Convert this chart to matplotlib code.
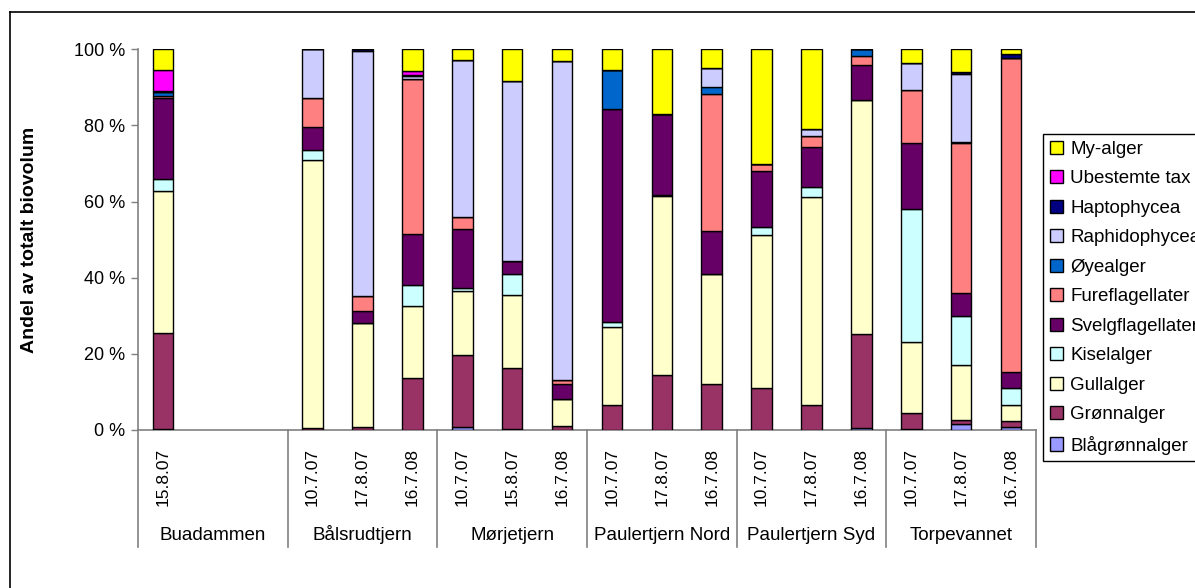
import matplotlib
matplotlib.use('Agg')
import matplotlib.pyplot as plt
from matplotlib.lines import Line2D
from matplotlib.ticker import FuncFormatter
import numpy as np

plt.rcParams['font.family'] = ['Liberation Sans', 'DejaVu Sans']

groups = ['Buadammen', 'Bålsrudtjern', 'Mørjetjern', 'Paulertjern Nord',
          'Paulertjern Syd', 'Torpevannet']
dates = [['15.8.07'],
         ['10.7.07', '17.8.07', '16.7.08'],
         ['10.7.07', '15.8.07', '16.7.08'],
         ['10.7.07', '17.8.07', '16.7.08'],
         ['10.7.07', '17.8.07', '16.7.08'],
         ['10.7.07', '17.8.07', '16.7.08']]

series_names = ['Blågrønnalger', 'Grønnalger', 'Gullalger', 'Kiselalger',
                'Svelgflagellater', 'Fureflagellater', 'Øyealger',
                'Raphidophycea', 'Haptophycea', 'Ubestemte tax', 'My-alger']
colors = ['#9999FF', '#993366', '#FFFFCC', '#CCFFFF', '#660066', '#FF8080',
          '#0066CC', '#CCCCFF', '#000080', '#FF00FF', '#FFFF00']

# sample order: Bua | B1 B2 B3 | M1 M2 M3 | PN1 PN2 PN3 | PS1 PS2 PS3 | T1 T2 T3
blagronnalger = [0.3, 0, 0, 0, 0.7, 0.3, 0, 0, 0, 0, 0, 0, 0.5, 0.3, 1.6, 0.9]
gronnalger = [25.1, 0.4, 0.8, 13.5, 19.0, 16.0, 1.0, 6.6, 14.4, 12.1, 11.0, 6.6, 24.7, 4.2, 1.0, 1.4]
gullalger = [37.2, 70.5, 27.2, 18.9, 16.9, 19.2, 7.2, 20.5, 47.0, 28.8, 40.2, 54.7, 61.5, 18.6, 14.5, 4.3]
kiselalger = [3.3, 2.6, 0, 5.7, 0.6, 5.4, 0, 1.2, 0.3, 0, 2.0, 2.6, 0, 34.9, 12.8, 4.4]
svelgflagellater = [21.2, 6.0, 3.3, 13.1, 15.5, 3.5, 4.0, 55.9, 21.2, 11.4, 14.9, 10.4, 9.2, 17.3, 6.2, 4.2]
fureflagellater = [0.4, 7.8, 3.9, 40.7, 3.3, 0, 0.9, 0, 0, 36.0, 1.9, 2.9, 2.4, 14.0, 39.2, 82.4]
oyealger = [1.0, 0, 0, 0, 0, 0, 0, 10.4, 0, 1.9, 0, 0, 1.7, 0, 0.3, 0]
raphidophycea = [0, 12.7, 64.3, 0.7, 41.3, 47.4, 83.9, 0, 0, 4.9, 0, 1.8, 0, 7.2, 18.0, 0]
haptophycea = [0.3, 0, 0.5, 0.3, 0, 0, 0, 0, 0, 0, 0, 0, 0, 0, 0.5, 1.2]
ubestemte = [5.6, 0, 0, 1.1, 0, 0, 0, 0, 0, 0, 0, 0, 0, 0, 0, 0]
my_alger = [5.4, 0, 0, 5.7, 2.7, 8.2, 3.0, 5.4, 17.1, 4.9, 30.0, 21.0, 0, 3.5, 5.9, 1.2]

series = [blagronnalger, gronnalger, gullalger, kiselalger, svelgflagellater,
          fureflagellater, oyealger, raphidophycea, haptophycea, ubestemte, my_alger]

W, H = 1195, 588
fig = plt.figure(figsize=(W / 100, H / 100), dpi=100)
ax = fig.add_axes([138 / W, 1 - 430 / H, (1036 - 138) / W, (430 - 49.3) / H])

# positions: 3 slots per group
xpos, xlabels = [], []
for gi, dl in enumerate(dates):
    for j, d in enumerate(dl):
        xpos.append(3 * gi + j)
        xlabels.append(d)
xpos = np.array(xpos, dtype=float)

data = np.array(series, dtype=float)
totals = data.sum(axis=0)
pct = data / totals * 100
bottom = np.zeros(len(xpos))
handles = []
for name, col, vals in zip(series_names, colors, pct):
    b = ax.bar(xpos, vals, 0.41, bottom=bottom, color=col, edgecolor='black',
               linewidth=1.0, label=name, zorder=3)
    handles.append(b)
    bottom += vals

ax.set_xlim(-0.5, 17.5)
ax.set_ylim(0, 100)
ax.set_yticks([0, 20, 40, 60, 80, 100])
ax.yaxis.set_major_formatter(FuncFormatter(lambda v, p: f"{int(v)} %"))
ax.tick_params(axis='y', length=5, width=1, color='#808080', labelsize=13, pad=4, direction='out')
ax.set_xticks(xpos)
ax.set_xticklabels(xlabels, rotation=90, fontsize=12.5, va='top', ha='center')
ax.tick_params(axis='x', length=0, pad=13)
for s in ['top', 'right']:
    ax.spines[s].set_visible(False)
ax.spines['left'].set_color('#808080')
ax.spines['bottom'].set_color('#808080')
ax.spines['left'].set_linewidth(1.2)
ax.spines['bottom'].set_linewidth(1.2)

ax.set_ylabel('Andel av totalt biovolum', fontsize=14, fontweight='bold', labelpad=26)

# group labels and dividers of the category table
trans = ax.get_xaxis_transform()
yb = -(547 - 430) / (430 - 49.3)
ylab = -(535 - 430) / (430 - 49.3)
for gi, g in enumerate(groups):
    ax.text(3 * gi + 1, ylab, g, transform=trans, ha='center', va='center', fontsize=13.5)
for k in range(len(groups) + 1):
    ax.add_line(Line2D([3 * k - 0.5, 3 * k - 0.5], [0, yb], transform=trans,
                       color='#808080', linewidth=1.2, clip_on=False))

# outer chart border (partially off-canvas)
fig.add_artist(Line2D([10 / W, 1.0], [1 - 12 / H, 1 - 12 / H], color='black', linewidth=1.2))
fig.add_artist(Line2D([10 / W, 10 / W], [0, 1 - 12 / H], color='black', linewidth=1.2))

leg = fig.legend(handles[::-1], series_names[::-1], loc='upper left',
                 bbox_to_anchor=(1043 / W, 1 - 134 / H), fontsize=13.5,
                 frameon=True, fancybox=False, edgecolor='black', framealpha=1,
                 handlelength=0.7, handleheight=0.7, handletextpad=0.4,
                 labelspacing=0.66, borderpad=0.35, borderaxespad=0)
leg.get_frame().set_linewidth(1.0)

fig.savefig('out.png', dpi=100)
